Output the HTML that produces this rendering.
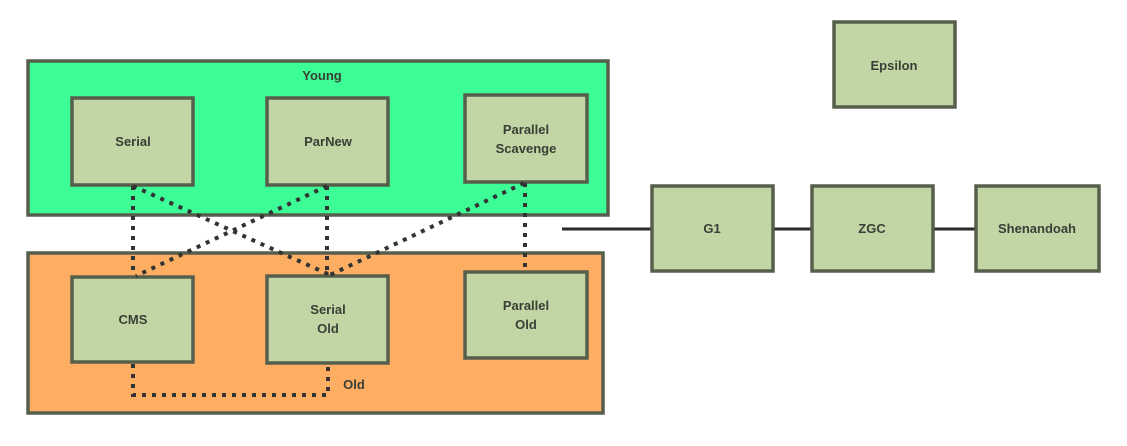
<!DOCTYPE html>
<html><head><meta charset="utf-8"><style>
body{margin:0;background:#fff;}
svg text{font-family:"Liberation Sans",sans-serif;font-weight:bold;font-size:13px;fill:#3a3f36;text-anchor:middle;}
</style></head><body>
<svg width="1127" height="441" viewBox="0 0 1127 441" xmlns="http://www.w3.org/2000/svg">
<g stroke="#565f4c" stroke-width="3.5">
<rect x="28" y="61" width="580" height="154" fill="#3dfd96"/>
<rect x="28" y="253" width="575" height="160" fill="#fdae63"/>
</g>
<text x="322" y="80">Young</text>
<text x="354" y="389">Old</text>
<line x1="562" y1="229" x2="1099" y2="229" stroke="#2a2a2a" stroke-width="3"/>
<g stroke="#565f4c" stroke-width="3.5" fill="#c2d5a4">
<rect x="72" y="98" width="121" height="87"/>
<rect x="267" y="98" width="121" height="87"/>
<rect x="465" y="95" width="122" height="87"/>
<rect x="72" y="277" width="121" height="85"/>
<rect x="267" y="276" width="121" height="87"/>
<rect x="465" y="272" width="122" height="86"/>
<rect x="834" y="22" width="121" height="85"/>
<rect x="652" y="186" width="121" height="85"/>
<rect x="812" y="186" width="121" height="85"/>
<rect x="976" y="186" width="123" height="85"/>
</g>
<g stroke="#333" stroke-width="4" stroke-dasharray="4 6" fill="none">
<line x1="133" y1="186" x2="133" y2="276"/>
<line x1="133" y1="186" x2="330" y2="275"/>
<line x1="327" y1="186" x2="136" y2="276"/>
<line x1="327" y1="186" x2="327" y2="275"/>
<line x1="524" y1="183" x2="330" y2="275"/>
<line x1="525" y1="183" x2="525" y2="271"/>
<path d="M133 364 V395 H328 V364"/>
</g>
<text x="133" y="146">Serial</text>
<text x="328" y="146">ParNew</text>
<text x="526" y="134">Parallel</text>
<text x="526" y="153">Scavenge</text>
<text x="133" y="324">CMS</text>
<text x="328" y="314">Serial</text>
<text x="328" y="333">Old</text>
<text x="526" y="310">Parallel</text>
<text x="526" y="329">Old</text>
<text x="894" y="70">Epsilon</text>
<text x="712" y="233">G1</text>
<text x="872" y="233">ZGC</text>
<text x="1037" y="233">Shenandoah</text>
</svg>
</body></html>
